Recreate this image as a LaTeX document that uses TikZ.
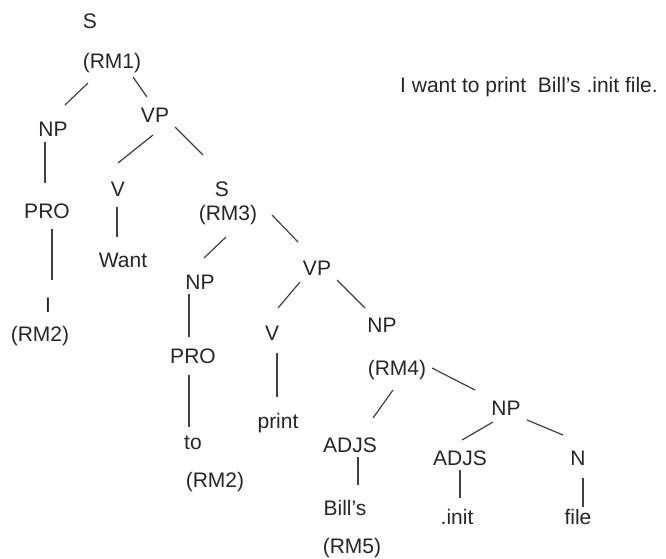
\documentclass[tikz,border=0pt]{standalone}
\usepackage{fontspec}
\setmainfont{Liberation Sans}
\begin{document}
\begin{tikzpicture}[x=1pt,y=-1pt,
  lab/.style={inner sep=0pt,text=black!85,font=\fontsize{21}{23}\selectfont},
  sent/.style={inner sep=0pt,text=black!85,font=\fontsize{21}{23}\selectfont,anchor=base west},
  edge/.style={draw=black!75,line width=1.2pt}]
\useasboundingbox (0,0) rectangle (666,559);
\node[lab] (S0) at (90,21) {S};
\node[lab] (RM1) at (112,63) {(RM1)};
\node[lab] (NP1) at (53,129) {NP};
\node[lab] (VP1) at (155,115) {VP};
\node[lab] (V1) at (118,189) {V};
\node[lab] (S3) at (222,189) {S};
\node[lab] (RM3) at (228,215) {(RM3)};
\node[lab] (PRO1) at (47,211) {PRO};
\node[lab] (Want) at (123,260) {Want};
\node[lab] (I1) at (48,305) {I};
\node[lab] (RM2a) at (40,336) {(RM2)};
\node[lab] (NP2) at (200,282) {NP};
\node[lab] (VP2) at (317,268) {VP};
\node[lab] (V2) at (272,333) {V};
\node[lab] (NP3) at (382,325) {NP};
\node[lab] (PRO2) at (193,356) {PRO};
\node[lab] (RM4) at (397,370) {(RM4)};
\node[lab] (NP4) at (506,408) {NP};
\node[lab] (print) at (278,423) {print};
\node[lab] (to) at (193,443) {to};
\node[lab] (ADJS1) at (350,445) {ADJS};
\node[lab] (ADJS2) at (460,458) {ADJS};
\node[lab] (N) at (578,458) {N};
\node[lab] (RM2b) at (215,482) {(RM2)};
\node[lab] (Bills) at (345,508) {Bill's};
\node[lab] (init) at (457,517) {.init};
\node[lab] (file) at (578,517) {file};
\node[lab] (RM5) at (352,548) {(RM5)};
\node[sent] (sentence) at (400,93) {I want to print\ \ Bill's .init file.};
% connectors
\draw[edge] ([shift={(-24,20)}]RM1.center) -- ([shift={(12,-24)}]NP1.center);
\draw[edge] ([shift={(21,14)}]RM1.center) -- ([shift={(-8,-18)}]VP1.center);
\draw[edge] ([shift={(-2,20)}]VP1.center) -- ([shift={(0,-26)}]V1.center);
\draw[edge] ([shift={(20,12)}]VP1.center) -- ([shift={(-19,-34)}]S3.center);
\draw[edge] ([shift={(-8,13)}]NP1.center) -- ([shift={(-2,-28)}]PRO1.center);
\draw[edge] ([shift={(5,18)}]PRO1.center) -- ([shift={(4,-25)}]I1.center);
\draw[edge] ([shift={(-1,18)}]V1.center) -- ([shift={(-6,-23)}]Want.center);
\draw[edge] ([shift={(-2,22)}]RM3.center) -- ([shift={(4,-24)}]NP2.center);
\draw[edge] ([shift={(44,0)}]RM3.center) -- ([shift={(-19,-26)}]VP2.center);
\draw[edge] ([shift={(-11,12)}]NP2.center) -- ([shift={(-4,-19)}]PRO2.center);
\draw[edge] ([shift={(-4,19)}]PRO2.center) -- ([shift={(-4,-16)}]to.center);
\draw[edge] ([shift={(-17,14)}]VP2.center) -- ([shift={(6,-25)}]V2.center);
\draw[edge] ([shift={(20,12)}]VP2.center) -- ([shift={(-17,-17)}]NP3.center);
\draw[edge] ([shift={(5,20)}]V2.center) -- ([shift={(-1,-26)}]print.center);
\draw[edge] ([shift={(-4,20)}]RM4.center) -- ([shift={(23,-27)}]ADJS1.center);
\draw[edge] ([shift={(35,-2)}]RM4.center) -- ([shift={(-31,-18)}]NP4.center);
\draw[edge] ([shift={(-13,14)}]NP4.center) -- ([shift={(2,-18)}]ADJS2.center);
\draw[edge] ([shift={(21,12)}]NP4.center) -- ([shift={(-15,-23)}]N.center);
\draw[edge] ([shift={(8,12)}]ADJS1.center) -- ([shift={(13,-23)}]Bills.center);
\draw[edge] ([shift={(0,12)}]ADJS2.center) -- ([shift={(3,-19)}]init.center);
\draw[edge] ([shift={(5,20)}]N.center) -- ([shift={(5,-10)}]file.center);
\end{tikzpicture}
\end{document}
